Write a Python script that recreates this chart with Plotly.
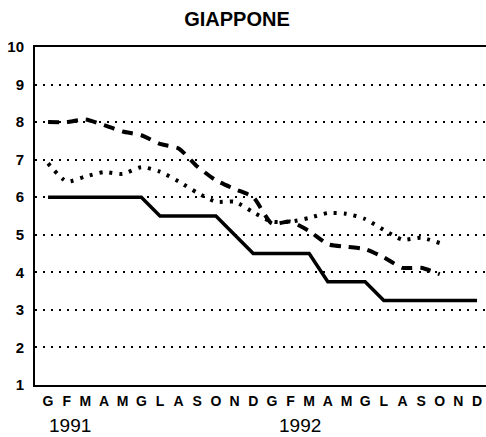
import plotly.graph_objects as go

months = ["G", "F", "M", "A", "M", "G", "L", "A", "S", "O", "N", "D",
          "G", "F", "M", "A", "M", "G", "L", "A", "S", "O", "N", "D"]
years = ["1991", "1992"]

solid_vals = [6, 6, 6, 6, 6, 6, 5.5, 5.5, 5.5, 5.5, 5.0, 4.5,
              4.5, 4.5, 4.5, 3.75, 3.75, 3.75, 3.25, 3.25, 3.25, 3.25, 3.25, 3.25]
dashed_vals = [8.0, 8.0, 8.07, 7.92, 7.75, 7.65, 7.42, 7.3, 6.82, 6.45, 6.22, 6.0,
               5.3, 5.35, 5.1, 4.75, 4.68, 4.62, 4.4, 4.12, 4.12, 3.95]
dotted_vals = [6.9, 6.42, 6.55, 6.67, 6.62, 6.8, 6.68, 6.42, 6.12, 5.88, 5.88, 5.6,
               5.35, 5.35, 5.45, 5.58, 5.56, 5.42, 5.13, 4.87, 4.92, 4.78]

x_all = list(range(len(months)))

fig = go.Figure()
fig.add_trace(go.Scatter(x=x_all[:len(dotted_vals)], y=dotted_vals, mode="lines",
                         line=dict(color="black", width=4, dash="3px,7px", shape="spline", smoothing=0.6),
                         showlegend=False, hoverinfo="skip"))
fig.add_trace(go.Scatter(x=x_all[:len(dashed_vals)], y=dashed_vals, mode="lines",
                         line=dict(color="black", width=4, dash="11px,8px", shape="spline", smoothing=0.6),
                         showlegend=False, hoverinfo="skip"))
fig.add_trace(go.Scatter(x=x_all, y=solid_vals, mode="lines",
                         line=dict(color="black", width=3.5),
                         showlegend=False, hoverinfo="skip"))

font_family = "Liberation Sans, Arial, sans-serif"

fig.update_layout(
    width=486, height=437,
    margin=dict(l=35, r=0, t=47, b=52),
    paper_bgcolor="white", plot_bgcolor="white",
    title=dict(text="<b>GIAPPONE</b>", x=237/486, xanchor="center",
               y=1 - 19/437, yanchor="middle",
               font=dict(family=font_family, size=20, color="black")),
    xaxis=dict(range=[-0.7, 23.48], tickmode="array", tickvals=x_all, ticktext=months,
               showgrid=False, zeroline=False, showline=True, linecolor="black", linewidth=2,
               mirror=True, ticks="", automargin=False, ticklabelstandoff=2,
               tickfont=dict(family=font_family, size=14, color="black", weight="bold")),
    yaxis=dict(range=[1, 10], tickmode="array", tickvals=list(range(1, 11)),
               showgrid=True, gridcolor="black", gridwidth=2, griddash="2px,6px",
               zeroline=False, showline=True, linecolor="black", linewidth=2,
               ticks="", ticklabelstandoff=6, automargin=False,
               tickfont=dict(family=font_family, size=15, color="black", weight="bold")),
    annotations=[
        dict(text=years[0], x=(70 - 35) / 451, y=(385 - 425) / 338, xref="paper", yref="paper",
             xanchor="center", yanchor="middle", showarrow=False,
             font=dict(family=font_family, size=19, color="black")),
        dict(text=years[1], x=(300 - 35) / 451, y=(385 - 425) / 338, xref="paper", yref="paper",
             xanchor="center", yanchor="middle", showarrow=False,
             font=dict(family=font_family, size=19, color="black")),
    ],
)

fig.write_html("out.html", config={"displayModeBar": False},
               post_script="document.body.style.margin='0';document.body.style.overflow='hidden';")
